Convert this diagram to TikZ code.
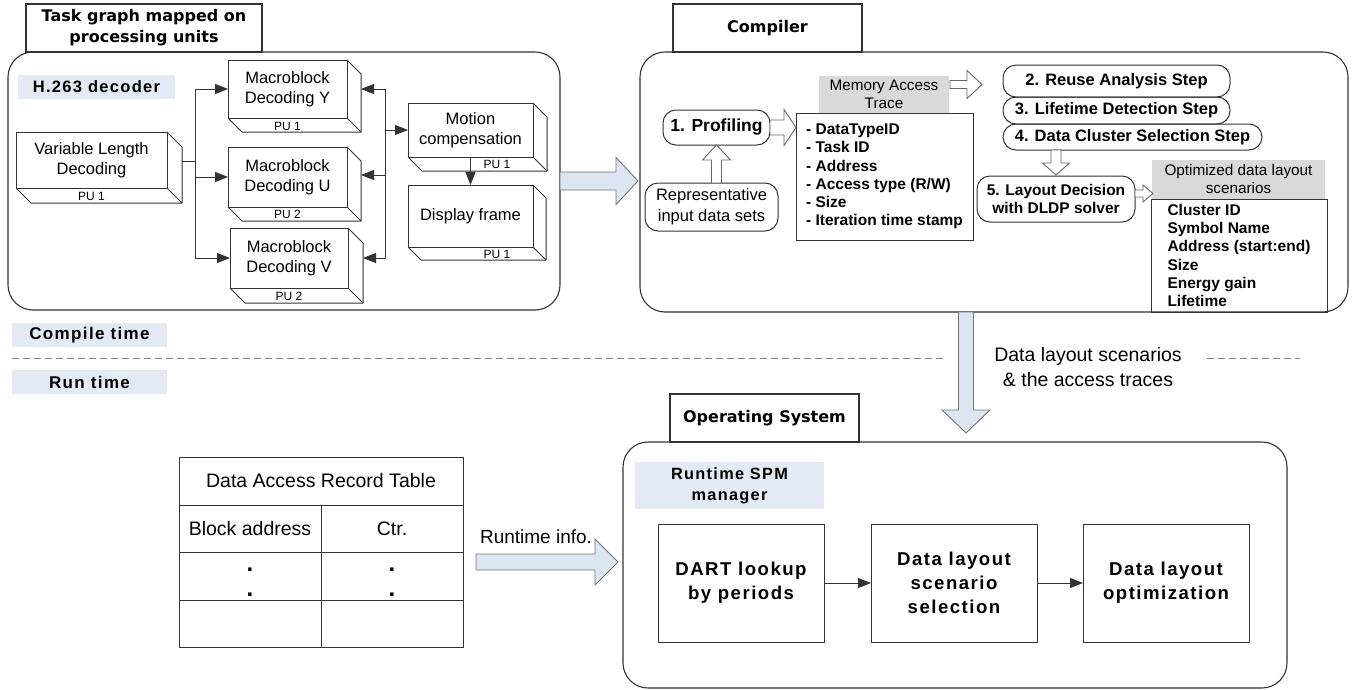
\documentclass[tikz,border=0pt]{standalone}
\usepackage{fontspec}
\setmainfont{Liberation Sans}
\newfontfamily\spacedfont{Liberation Sans}[LetterSpace=8]
\newfontfamily\heavyfont{DejaVu Sans}
\usetikzlibrary{arrows.meta,calc}
\definecolor{lblue}{HTML}{E3E9F5}
\definecolor{ablue}{HTML}{DDE5F2}
\definecolor{lgray}{HTML}{D9D9D9}
\definecolor{edge}{HTML}{333333}
\newcommand\fsz[2]{\fontsize{#1}{#2}\selectfont}
\newcommand\extrude[2]{%
  \draw[draw=edge, line width=1pt, line join=round] (#1.north east) -- ($(#1.north east)+(#2,#2)$) -- ($(#1.south east)+(#2,#2)$) -- ($(#1.south west)+(#2,#2)$) -- (#1.south west);
  \draw[draw=edge, line width=1pt] (#1.south east) -- ($(#1.south east)+(#2,#2)$);}
\newcommand\blockarrow[6]{%
  \coordinate (baA) at (#2);
  \coordinate (baB) at (#3);
  \coordinate (baH) at ($(baB)!#6!(baA)$);
  \draw[#1] ($(baA)!#4!90:(baB)$) -- ($(baH)!#4!90:(baB)$) -- ($(baH)!#5!90:(baB)$) -- (baB) -- ($(baH)!#5!-90:(baB)$) -- ($(baH)!#4!-90:(baB)$) -- ($(baA)!#4!-90:(baB)$) -- cycle;}
\tikzset{
  every node/.style={inner sep=0pt, outer sep=0pt},
  wh/.style 2 args={minimum width=#1pt, minimum height=#2pt},
  panel/.style={draw=edge, line width=1.1pt, rounded corners=25pt},
  tab/.style={draw=edge, line width=1.1pt, font=\heavyfont\bfseries\fsz{16}{21}, align=center},
  bluelabel/.style={fill=lblue, font=\spacedfont\bfseries\fsz{16.5}{21}, align=center},
  front/.style={draw=edge, line width=1pt, font=\fsz{16.5}{20}, align=center, fill=white},
  pu/.style={font=\fsz{12}{14}},
  conn/.style={draw=edge, line width=0.9pt},
  arr/.style={conn, -{Triangle[length=13pt,width=10pt]}},
  stepbox/.style={draw=edge, line width=1pt, rounded corners=13pt, font=\bfseries\fsz{16.5}{18}, align=center},
  graylabel/.style={fill=lgray, font=\fsz{15.3}{18}, align=center},
  listbox/.style={draw=edge, line width=1pt, font=\bfseries\fsz{15.5}{18.2}, align=left},
  bigarrow/.style={draw=black!55, fill=ablue, line width=0.9pt},
  hollow/.style={draw=black!60, fill=white, line width=0.9pt},
  osbox/.style={draw=edge, line width=1pt, font=\spacedfont\bfseries\fsz{18.6}{24}, align=center},
  cell/.style={draw=edge, line width=1pt, font=\fsz{19.5}{24}},
  dotf/.style={font=\bfseries\fsz{24}{24}, anchor=base},
  plain/.style={font=\fsz{19.5}{25}, align=center}
}
\begin{document}
\begin{tikzpicture}[x=1pt, y=-1pt]
\useasboundingbox (0,0) rectangle (1361,689);

% ---------- Task graph panel ----------
\node[panel, wh={552}{258}] (p1) at (284,181) {};
\node[tab, wh={236}{48}] (tab1) at (144,28) {Task graph mapped on\\processing units};
\node[bluelabel, wh={157}{24}] (h263) at (96.5,87) {H.263 decoder};

\node[front, wh={151}{56}] (vld) at (91.5,160) {Variable Length\\Decoding};
\extrude{vld}{15}
\node[pu] (vldpu) at ($(vld.south)+(0,8)$) {PU 1};

\node[front, wh={119}{58}] (mby) at (287.5,89) {Macroblock\\Decoding Y};
\extrude{mby}{14}
\node[pu] (mbypu) at ($(mby.south)+(0,8)$) {PU 1};

\node[front, wh={119}{60}] (mbu) at (287.5,177) {Macroblock\\Decoding U};
\extrude{mbu}{14}
\node[pu] (mbupu) at ($(mbu.south)+(0,7.5)$) {PU 2};

\node[front, wh={118}{60}] (mbv) at (289,258) {Macroblock\\Decoding V};
\extrude{mbv}{15}
\node[pu] (mbvpu) at ($(mbv.south)+(0,8)$) {PU 2};

\node[front, wh={125}{54}] (mc) at (470.5,130) {Motion\\compensation};
\extrude{mc}{14}
\node[pu] (mcpu) at ($(mc.south east)+(-36,7)$) {PU 1};

\node[front, wh={125}{62}] (disp) at (470.5,216) {Display frame};
\extrude{disp}{13}
\node[pu] (disppu) at ($(disp.south east)+(-36,7)$) {PU 1};

\coordinate (j1) at (195,161);
\draw[conn] ($(vld.east)+(15,1)$) -- (j1);
\draw[arr] (j1) |- (mby.west);
\draw[arr] (j1) |- (mbu.west);
\draw[arr] (j1) |- (mbv.west);
\coordinate (j2) at (385,175);
\draw[arr] (j2) |- ($(mby.east)+(14,0)$);
\draw[arr] (j2) |- ($(mbu.east)+(14,-2)$);
\draw[arr] (j2) |- ($(mbv.east)+(15,0)$);
\draw[arr] (j2) |- (mc.west);
\draw[arr] (mc.south) -- (disp.north);

% ---------- Compiler panel ----------
\node[panel, wh={708}{260}] (p2) at (994,182) {};
\node[tab, wh={189}{48}] (tab2) at (767.5,28) {Compiler};

\node[graylabel, wh={130}{37}] (mat) at (884,94.5) {Memory Access\\Trace};
\node[listbox, wh={177}{127}] (list) at (884.5,176.5) {- DataTypeID\\- Task ID\\- Address\\- Access type (R/W)\\- Size\\- Iteration time stamp};
\node[stepbox, wh={107}{35}, font=\bfseries\fsz{17.5}{20}] (prof) at (716.5,127.5) {1. Profiling};
\node[stepbox, wh={133}{48}, font=\fsz{16.5}{21}] (rep) at (711.5,207) {Representative\\input data sets};

\node[stepbox, wh={227}{32}] (step2) at (1116.5,81) {2. Reuse Analysis Step};
\node[stepbox, wh={227}{27}] (step3) at (1116.5,110.5) {3. Lifetime Detection Step};
\node[stepbox, wh={259}{26}] (step4) at (1132.5,137) {4. Data Cluster Selection Step};
\node[stepbox, wh={158}{46}, font=\bfseries\fsz{15.5}{18}] (step5) at (1056,199) {5. Layout Decision\\with DLDP solver};
\node[graylabel, wh={173}{39}] (optl) at (1238.5,179.5) {Optimized data layout\\scenarios};
\node[listbox, wh={176}{113}] (optlist) at (1239,255.5) {Cluster ID\\Symbol Name\\Address (start:end)\\Size\\Energy gain\\Lifetime};

\blockarrow{hollow}{$(mat.east)+(1,-10)$}{$(step2.west)+(-21,3.5)$}{4pt}{14pt}{15pt}
\blockarrow{hollow}{prof.east}{prof.east -| list.west}{7.5pt}{18pt}{12pt}
\blockarrow{hollow}{rep.north -| prof.south}{prof.south}{5pt}{14pt}{15pt}
\blockarrow{hollow}{step5.north |- step4.south}{$(step5.north)+(0,-1)$}{5pt}{13.5pt}{12pt}
\blockarrow{hollow}{$(step5.east)+(0,-5.5)$}{$(step5.east -| optlist.west)+(2,-5.5)$}{3.5pt}{8.5pt}{10pt}

% ---------- big arrow between panels ----------
\blockarrow{bigarrow}{p1.east}{$(p1.east -| p2.west)+(-2,0)$}{9pt}{23.5pt}{22pt}

% ---------- compile / run time ----------
\node[bluelabel, wh={155}{24}, font=\spacedfont\bfseries\fsz{17}{20}] (ct) at (89.5,335) {Compile time};
\node[bluelabel, wh={155}{24}, font=\spacedfont\bfseries\fsz{17}{20}] (rt) at (89.5,382) {Run time};
\draw[black!50, line width=0.9pt, dash pattern=on 7pt off 4pt] (12,358) -- (947,358);
\draw[black!50, line width=0.9pt, dash pattern=on 7pt off 4pt] (1207,358) -- (1300,358);

% ---------- OS panel ----------
\node[panel, wh={664}{246}] (p3) at (955,565) {};
\node[tab, wh={189}{48}] (tab3) at (764.5,418) {Operating System};
\node[bluelabel, wh={189}{47}, font=\spacedfont\bfseries\fsz{16.3}{21}] (spm) at (729.5,485.5) {Runtime SPM\\manager};
\node[osbox, wh={166}{118}] (dart) at (741,583) {DART lookup\\by periods};
\node[osbox, wh={166}{118}] (scen) at (954,583) {Data layout\\scenario\\selection};
\node[osbox, wh={166}{118}] (optim) at (1166,583) {Data layout\\optimization};
\draw[arr] (dart) -- (scen);
\draw[arr] (scen) -- (optim);

\coordinate (dnS) at ($(p2.south)+(-28,0)$);
\coordinate (dnE) at ($(dnS |- p3.north)+(0,-9)$);
\blockarrow{bigarrow}{dnS}{dnE}{7.5pt}{24pt}{23pt}
\node[plain] (dltext) at (1088,367.5) {Data layout scenarios\\\& the access traces};

% ---------- DART table ----------
\node[cell, wh={284}{48}] (title) at (321,481) {Data Access Record Table};
\node[cell, wh={142}{47}] (c21) at (250,528.5) {Block address};
\node[cell, wh={142}{47}] (c22) at (392,528.5) {Ctr.};
\node[cell, wh={142}{48}] (c31) at (250,576) {};
\node[cell, wh={142}{48}] (c32) at (392,576) {};
\node[cell, wh={142}{47}] (c41) at (250,623.5) {};
\node[cell, wh={142}{47}] (c42) at (392,623.5) {};
\node[dotf] (d1) at (c31.center |- 0,571) {.};
\node[dotf] (d2) at (c31.center |- 0,596) {.};
\node[dotf] (d3) at (c32.center |- 0,571) {.};
\node[dotf] (d4) at (c32.center |- 0,596) {.};

\coordinate (rtS) at ($(title.east |- 0,562)+(13,0)$);
\blockarrow{bigarrow}{rtS}{$(p3.west)+(-5,-3)$}{8pt}{23pt}{23pt}
\node[font=\fsz{19}{22}] (rtinfo) at (536,537) {Runtime info.};
\end{tikzpicture}
\end{document}
